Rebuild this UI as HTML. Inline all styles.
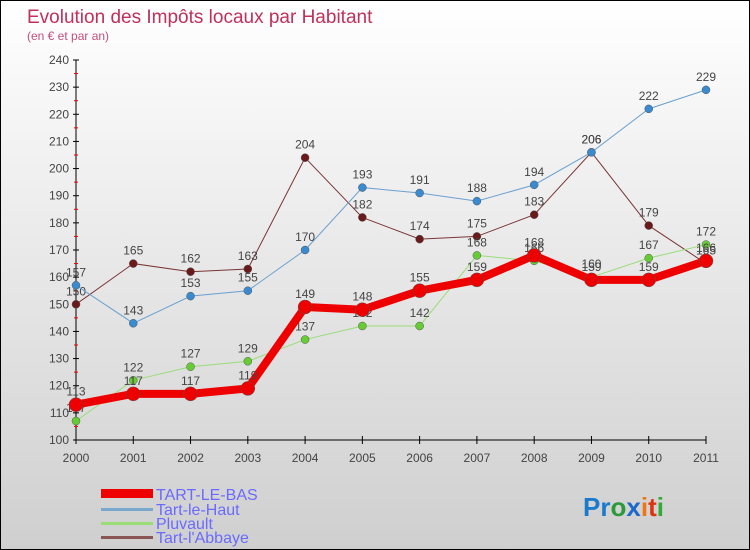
<!DOCTYPE html>
<html><head><meta charset="utf-8"><style>
body{margin:0}
#c{width:750px;height:550px;position:relative;box-sizing:border-box;border:1px solid #000;background:linear-gradient(#ffffff,#cfcfcf);font-family:"Liberation Sans",sans-serif;overflow:hidden}
svg text{font-family:"Liberation Sans",sans-serif}
</style></head><body>
<div id="c">
<svg id="s" width="748" height="548">
<text x="26" y="22" font-size="19" fill="#c0305a">Evolution des Impôts locaux par Habitant</text>
<text x="26" y="39" font-size="12" fill="#c0507a">(en € et par an)</text>
<g id="ax"></g><g id="ser"></g>
<g>
<rect x="100" y="488" width="52" height="9" fill="#e00"/>
<text x="155" y="499" font-size="16" fill="#6a6aff">TART-LE-BAS</text>
<rect x="100" y="507" width="52" height="3" fill="#7aa8cc"/>
<text x="155" y="514" font-size="16" fill="#6a6aff">Tart-le-Haut</text>
<rect x="100" y="521" width="52" height="3" fill="#99dd77"/>
<text x="155" y="528" font-size="16" fill="#6a6aff">Pluvault</text>
<rect x="100" y="535" width="52" height="3" fill="#8a5555"/>
<text x="155" y="542" font-size="16" fill="#6a6aff">Tart-l'Abbaye</text>
</g>
<text x="582" y="515" font-size="26" font-weight="bold"><tspan fill="#1a7acc">Pr</tspan><tspan fill="#2a9a3a">o</tspan><tspan fill="#1a6acc">x</tspan><tspan fill="#ee7711">i</tspan><tspan fill="#dd3311">t</tspan><tspan fill="#33aa33">i</tspan></text>
</svg></div>
<script>
const years=[2000,2001,2002,2003,2004,2005,2006,2007,2008,2009,2010,2011];
const yTicks=[100,110,120,130,140,150,160,170,180,190,200,210,220,230,240];
const tartLeBas=[113,117,117,119,149,148,155,159,168,159,159,166];
const tartLeHaut=[157,143,153,155,170,193,191,188,194,206,222,229];
const pluvault=[107,122,127,129,137,142,142,168,166,160,167,172];
const tartAbbaye=[150,165,162,163,204,182,174,175,183,206,179,165];
const NS="http://www.w3.org/2000/svg";
const X=i=>75+i*(630/11);
const Y=v=>439-(v-100)*(380/140);
function mk(t,a,p){const e=document.createElementNS(NS,t);for(const k in a)e.setAttribute(k,a[k]);p.appendChild(e);return e;}
const ax=document.getElementById('ax');
let l=mk('line',{x1:75,y1:Y(240),x2:75,y2:Y(100),stroke:'#000'},ax);


l=mk('line',{x1:75,y1:Y(100),x2:X(11),y2:Y(100),stroke:'#000'},ax);


yTicks.forEach(v=>{
 mk('line',{x1:72,y1:Y(v),x2:78,y2:Y(v),stroke:'#000'},ax);
 if(v<240)mk('line',{x1:73,y1:Y(v+5),x2:77,y2:Y(v+5),stroke:'#e00'},ax);
 const t=mk('text',{x:68,y:Y(v)+4,'text-anchor':'end','font-size':12,fill:'#444'},ax);t.textContent=v;
 
 
});
years.forEach((y,i)=>{
 mk('line',{x1:X(i),y1:Y(100)-4,x2:X(i),y2:Y(100)+4,stroke:'#000'},ax);
 const t=mk('text',{x:X(i),y:Y(100)+22,'text-anchor':'middle','font-size':12,fill:'#444'},ax);t.textContent=y;
 
 
});
const ser=document.getElementById('ser');
function draw(data,name,color,w,r,dot){
 const g=mk('g',{},ser);
 
 
 const p=mk('polyline',{points:data.map((v,i)=>X(i)+','+Y(v)).join(' '),fill:'none',stroke:color,'stroke-width':w},g);
 
 
 data.forEach((v,i)=>{
  const c=mk('circle',{cx:X(i),cy:Y(v),r:r,fill:dot,stroke:'#555','stroke-width':0.5},g);
  
  
  const t=mk('text',{x:X(i),y:Y(v)-9,'text-anchor':'middle','font-size':12,fill:'#444'},g);t.textContent=v;
  
  
 });
}
draw(tartAbbaye,'tart-l-abbaye','#7a3535',1,4,'#6a1a1a');
draw(tartLeHaut,'tart-le-haut','#6aa0d0',1,4,'#3a8ad0');
draw(pluvault,'pluvault','#99dd77',1,4,'#66cc33');
draw(tartLeBas,'tart-le-bas','#ee0000',8,7,'#e00');
</script>
</body></html>
